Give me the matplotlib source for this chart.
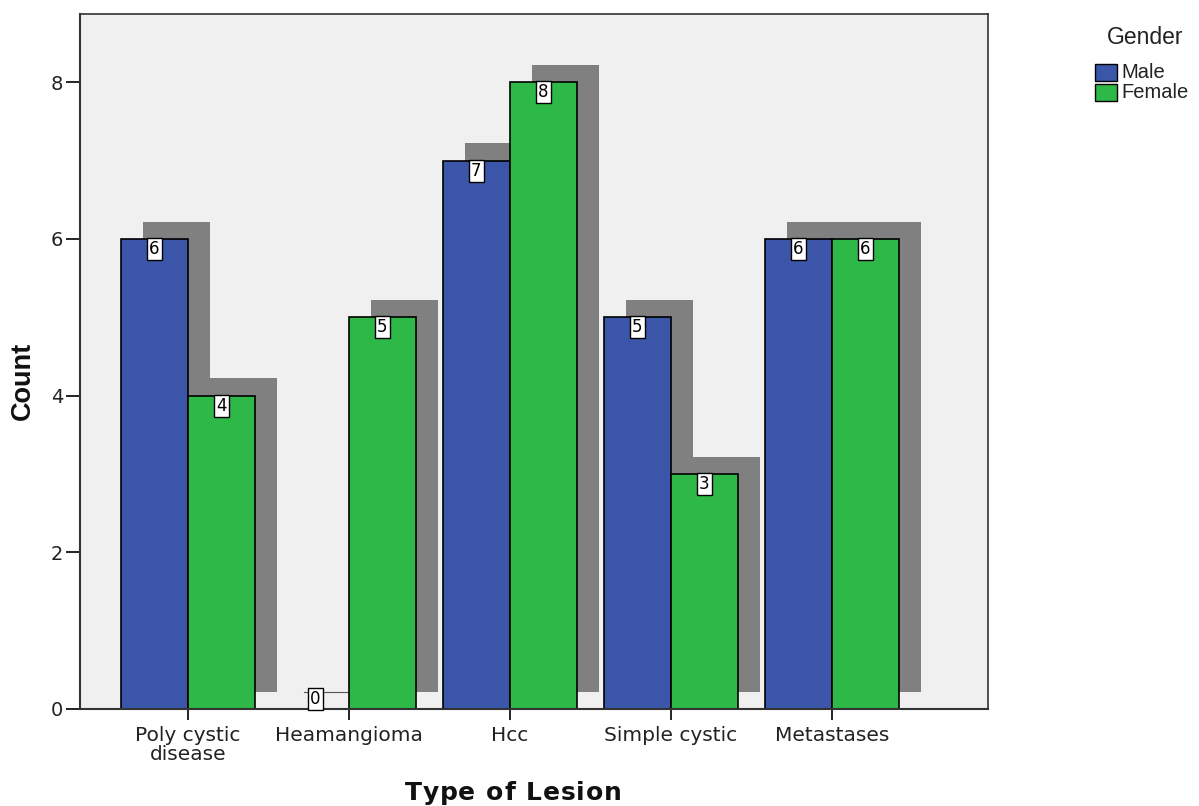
import matplotlib
matplotlib.use("Agg")
import matplotlib.pyplot as plt
from matplotlib.patches import Rectangle
import numpy as np

categories = ["Poly cystic\ndisease", "Heamangioma", "Hcc", "Simple cystic", "Metastases"]
male = [6, 0, 7, 5, 6]
female = [4, 5, 8, 3, 6]
series_names = ["Male", "Female"]
legend_title = "Gender"
y_ticks = [0, 2, 4, 6, 8]

blue = "#3b55a9"
green = "#2eb848"
shadow = "#808080"

W, H = 1199, 806
fig = plt.figure(figsize=(W/100, H/100), dpi=100)
ax = fig.add_axes([80/W, 97/H, 908/W, 695/H])
ax.set_facecolor("#f0f0f0")

x = np.arange(len(categories))
w = 0.416
dx = 0.137
dy = 0.22

for vals, off in ((male, -w/2), (female, w/2)):
    for xi, v in zip(x, vals):
        left = xi + off - w/2 + dx
        if v > 0:
            ax.add_patch(Rectangle((left, dy), w, v, facecolor=shadow, edgecolor="none", zorder=1))
        else:
            ax.plot([left, left + w], [dy, dy], color="#555555", lw=0.8, zorder=1)

for vals, off, col in ((male, -w/2, blue), (female, w/2, green)):
    ax.bar(x + off, vals, width=w, color=col, edgecolor="black", linewidth=1.2, zorder=2)
    for xi, v in zip(x, vals):
        yy = v - 0.13 if v > 0 else 0.13
        ax.text(xi + off, yy, str(v), ha="center", va="center", fontsize=12,
                family="DejaVu Sans", color="black", zorder=4,
                bbox=dict(boxstyle="square,pad=0.12", facecolor="white", edgecolor="black", lw=1))

ax.set_xlim(-0.67, 4.97)
ax.set_ylim(0, 8.87)
ax.set_xticks(x)
ax.set_xticklabels(categories, fontsize=14.5, family="DejaVu Sans", color="#222222", linespacing=1.0)
ax.set_yticks(y_ticks)
ax.set_yticklabels([str(t) for t in y_ticks], fontsize=14, family="DejaVu Sans", color="#222222")
ax.tick_params(axis="y", length=10, width=1.2, pad=2)
ax.tick_params(axis="x", length=8, width=1.2, pad=4)
for s in ax.spines.values():
    s.set_color("#333333")
    s.set_linewidth(1.2)
ax.spines["left"].set_linewidth(1.5)
ax.spines["bottom"].set_linewidth(1.5)

fig.text(23/W, 1 - 381/H, "Count", fontsize=19.5, fontweight="bold", family="Liberation Sans",
         rotation=90, ha="center", va="center", color="#111111")

# x-axis title with slight extra letter spacing
xlabel = "Type of Lesion"
fig.canvas.draw()
renderer = fig.canvas.get_renderer()
fs = 18
widths = []
for ch in xlabel:
    t = fig.text(0, 0, ch if ch != " " else "n", fontsize=fs, fontweight="bold", family="DejaVu Sans")
    bb = t.get_window_extent(renderer)
    widths.append(bb.width if ch != " " else bb.width * 0.5)
    t.remove()
gap = 0.9
total = sum(widths) + gap * (len(xlabel) - 1)
cx = 513
xpos = cx - total / 2
for ch, wd in zip(xlabel, widths):
    if ch != " ":
        fig.text(xpos / W, 1 - 800/H, ch, fontsize=fs, fontweight="bold", family="DejaVu Sans",
                 ha="left", va="baseline", color="#111111")
    xpos += wd + gap

# legend
fig.text(1145/W, 1 - 37/H, legend_title, fontsize=16.5, family="Liberation Sans", ha="center", va="center", color="#222222")
for i, (name, col) in enumerate(zip(series_names, [blue, green])):
    yc = 1 - (72 + i*20)/H
    fig.patches.append(Rectangle((1095/W, yc - 9/H), 22/W, 17/H, transform=fig.transFigure,
                                 facecolor=col, edgecolor="black", lw=1))
    fig.text(1121/W, yc, name, fontsize=14.5, family="Liberation Sans", ha="left", va="center", color="#222222")

fig.savefig("out.png", dpi=100)
